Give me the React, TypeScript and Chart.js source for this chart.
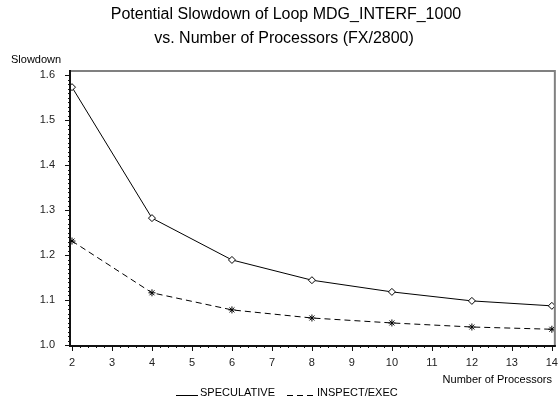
import React, { useEffect, useRef } from "react";
import { Chart, registerables } from "chart.js";

Chart.register(...registerables);

const titleLines = [
  "Potential Slowdown of Loop MDG_INTERF_1000",
  "vs. Number of Processors (FX/2800)",
];
const processors = [2, 4, 6, 8, 10, 12, 14];
const speculative = [1.573, 1.282, 1.189, 1.144, 1.118, 1.098, 1.087];
const inspectExec = [1.231, 1.116, 1.078, 1.06, 1.049, 1.04, 1.035];
const xTicks = [2, 3, 4, 5, 6, 7, 8, 9, 10, 11, 12, 13, 14];
const yTicks = [1.0, 1.1, 1.2, 1.3, 1.4, 1.5, 1.6];
const seriesNames = ["SPECULATIVE", "INSPECT/EXEC"];

const FONT = "'Liberation Sans', Arial, Helvetica, sans-serif";

const overlay = {
  id: "overlay",
  afterDraw(chart: any) {
    const { ctx, chartArea: a, scales } = chart;
    const x = scales.x;
    const y = scales.y;
    ctx.save();
    ctx.strokeStyle = "#808080";
    ctx.lineWidth = 2;
    ctx.beginPath();
    ctx.moveTo(a.left, a.top);
    ctx.lineTo(a.right, a.top);
    ctx.lineTo(a.right, a.bottom);
    ctx.stroke();
    ctx.strokeStyle = "#111";
    ctx.beginPath();
    ctx.moveTo(a.left, a.top - 1);
    ctx.lineTo(a.left, a.bottom);
    ctx.lineTo(a.right + 1, a.bottom);
    ctx.stroke();
    ctx.lineWidth = 1;
    ctx.beginPath();
    yTicks.forEach((v) => {
      const py = Math.round(y.getPixelForValue(v)) + 0.5;
      ctx.moveTo(a.left - 5, py);
      ctx.lineTo(a.left, py);
    });
    xTicks.forEach((v) => {
      const px = Math.round(x.getPixelForValue(v)) + 0.5;
      ctx.moveTo(px, a.bottom);
      ctx.lineTo(px, a.bottom + 5);
    });
    ctx.stroke();
    ctx.beginPath();
    for (let k = 100; k <= 160; k++) {
      if (k % 10 === 0) continue;
      const py = Math.round(y.getPixelForValue(k / 100)) + 0.5;
      ctx.moveTo(a.left - 2, py);
      ctx.lineTo(a.left, py);
    }
    for (let k = 10; k <= 70; k++) {
      if (k % 5 === 0) continue;
      const px = Math.round(x.getPixelForValue(k / 5)) + 0.5;
      ctx.moveTo(px, a.bottom);
      ctx.lineTo(px, a.bottom + 2);
    }
    ctx.stroke();

    ctx.fillStyle = "#000";
    ctx.font = `16px ${FONT}`;
    ctx.textAlign = "center";
    ctx.textBaseline = "middle";
    ctx.fillText(titleLines[0], 286, 15);
    ctx.fillText(titleLines[1], 284, 39);

    ctx.font = `11px ${FONT}`;
    ctx.textAlign = "left";
    ctx.fillText("Slowdown", 11, 60);
    ctx.textAlign = "right";
    ctx.fillText("Number of Processors", 552, 380);

    ctx.textAlign = "left";
    ctx.textBaseline = "alphabetic";
    ctx.strokeStyle = "#000";
    ctx.lineWidth = 1;
    ctx.beginPath();
    ctx.moveTo(176, 395.5);
    ctx.lineTo(198, 395.5);
    ctx.stroke();
    ctx.fillText(seriesNames[0], 200, 396);
    ctx.setLineDash([6, 4]);
    ctx.beginPath();
    ctx.moveTo(287, 395.5);
    ctx.lineTo(314, 395.5);
    ctx.stroke();
    ctx.setLineDash([]);
    ctx.fillText(seriesNames[1], 317, 396);
    ctx.restore();
  },
};

export default function App() {
  const ref = useRef<HTMLCanvasElement | null>(null);
  useEffect(() => {
    if (!ref.current) return;
    const chart = new Chart(ref.current, {
      type: "line",
      data: {
        datasets: [
          {
            label: seriesNames[0],
            data: processors.map((p, i) => ({ x: p, y: speculative[i] })),
            borderColor: "#000",
            borderWidth: 1,
            backgroundColor: "#fff",
            pointStyle: "rectRot",
            pointRadius: 3.5,
            pointBorderColor: "#000",
            pointBackgroundColor: "#fff",
            pointBorderWidth: 1,
            tension: 0,
          },
          {
            label: seriesNames[1],
            data: processors.map((p, i) => ({ x: p, y: inspectExec[i] })),
            borderColor: "#000",
            borderWidth: 1,
            borderDash: [6, 4],
            pointStyle: "star",
            pointRadius: 3.5,
            pointBorderColor: "#000",
            pointBackgroundColor: "#000",
            pointBorderWidth: 1,
            tension: 0,
          },
        ],
      },
      options: {
        responsive: false,
        animation: false,
        layout: { padding: { top: 71, right: 5, left: 0, bottom: 0 } },
        plugins: {
          legend: { display: false },
          title: { display: false },
          tooltip: { enabled: false },
        },
        scales: {
          x: {
            type: "linear",
            min: 1.95,
            max: 14.075,
            afterBuildTicks: (s: any) => {
              s.ticks = xTicks.map((v) => ({ value: v }));
            },
            afterFit: (s: any) => {
              s.height = 64;
            },
            grid: { display: false },
            border: { display: false },
            ticks: {
              padding: 2,
              maxRotation: 0,
              autoSkip: false,
              color: "#222",
              font: { family: FONT, size: 11 },
              callback: (v: any) => String(v),
            },
          },
          y: {
            type: "linear",
            min: 1 - 1 / 450,
            max: 1.6 + 4 / 450,
            afterBuildTicks: (s: any) => {
              s.ticks = yTicks.map((v) => ({ value: v }));
            },
            afterFit: (s: any) => {
              s.width = 70;
            },
            grid: { display: false },
            border: { display: false },
            ticks: {
              padding: 7,
              autoSkip: false,
              color: "#222",
              font: { family: FONT, size: 11 },
              callback: (v: any) => Number(v).toFixed(1),
            },
          },
        },
      },
      plugins: [overlay],
    } as any);
    return () => chart.destroy();
  }, []);
  return (
    <div style={{ position: "absolute", left: 0, top: 0, width: 560, height: 410, background: "#fff" }}>
      <canvas ref={ref} width={560} height={410} />
    </div>
  );
}
